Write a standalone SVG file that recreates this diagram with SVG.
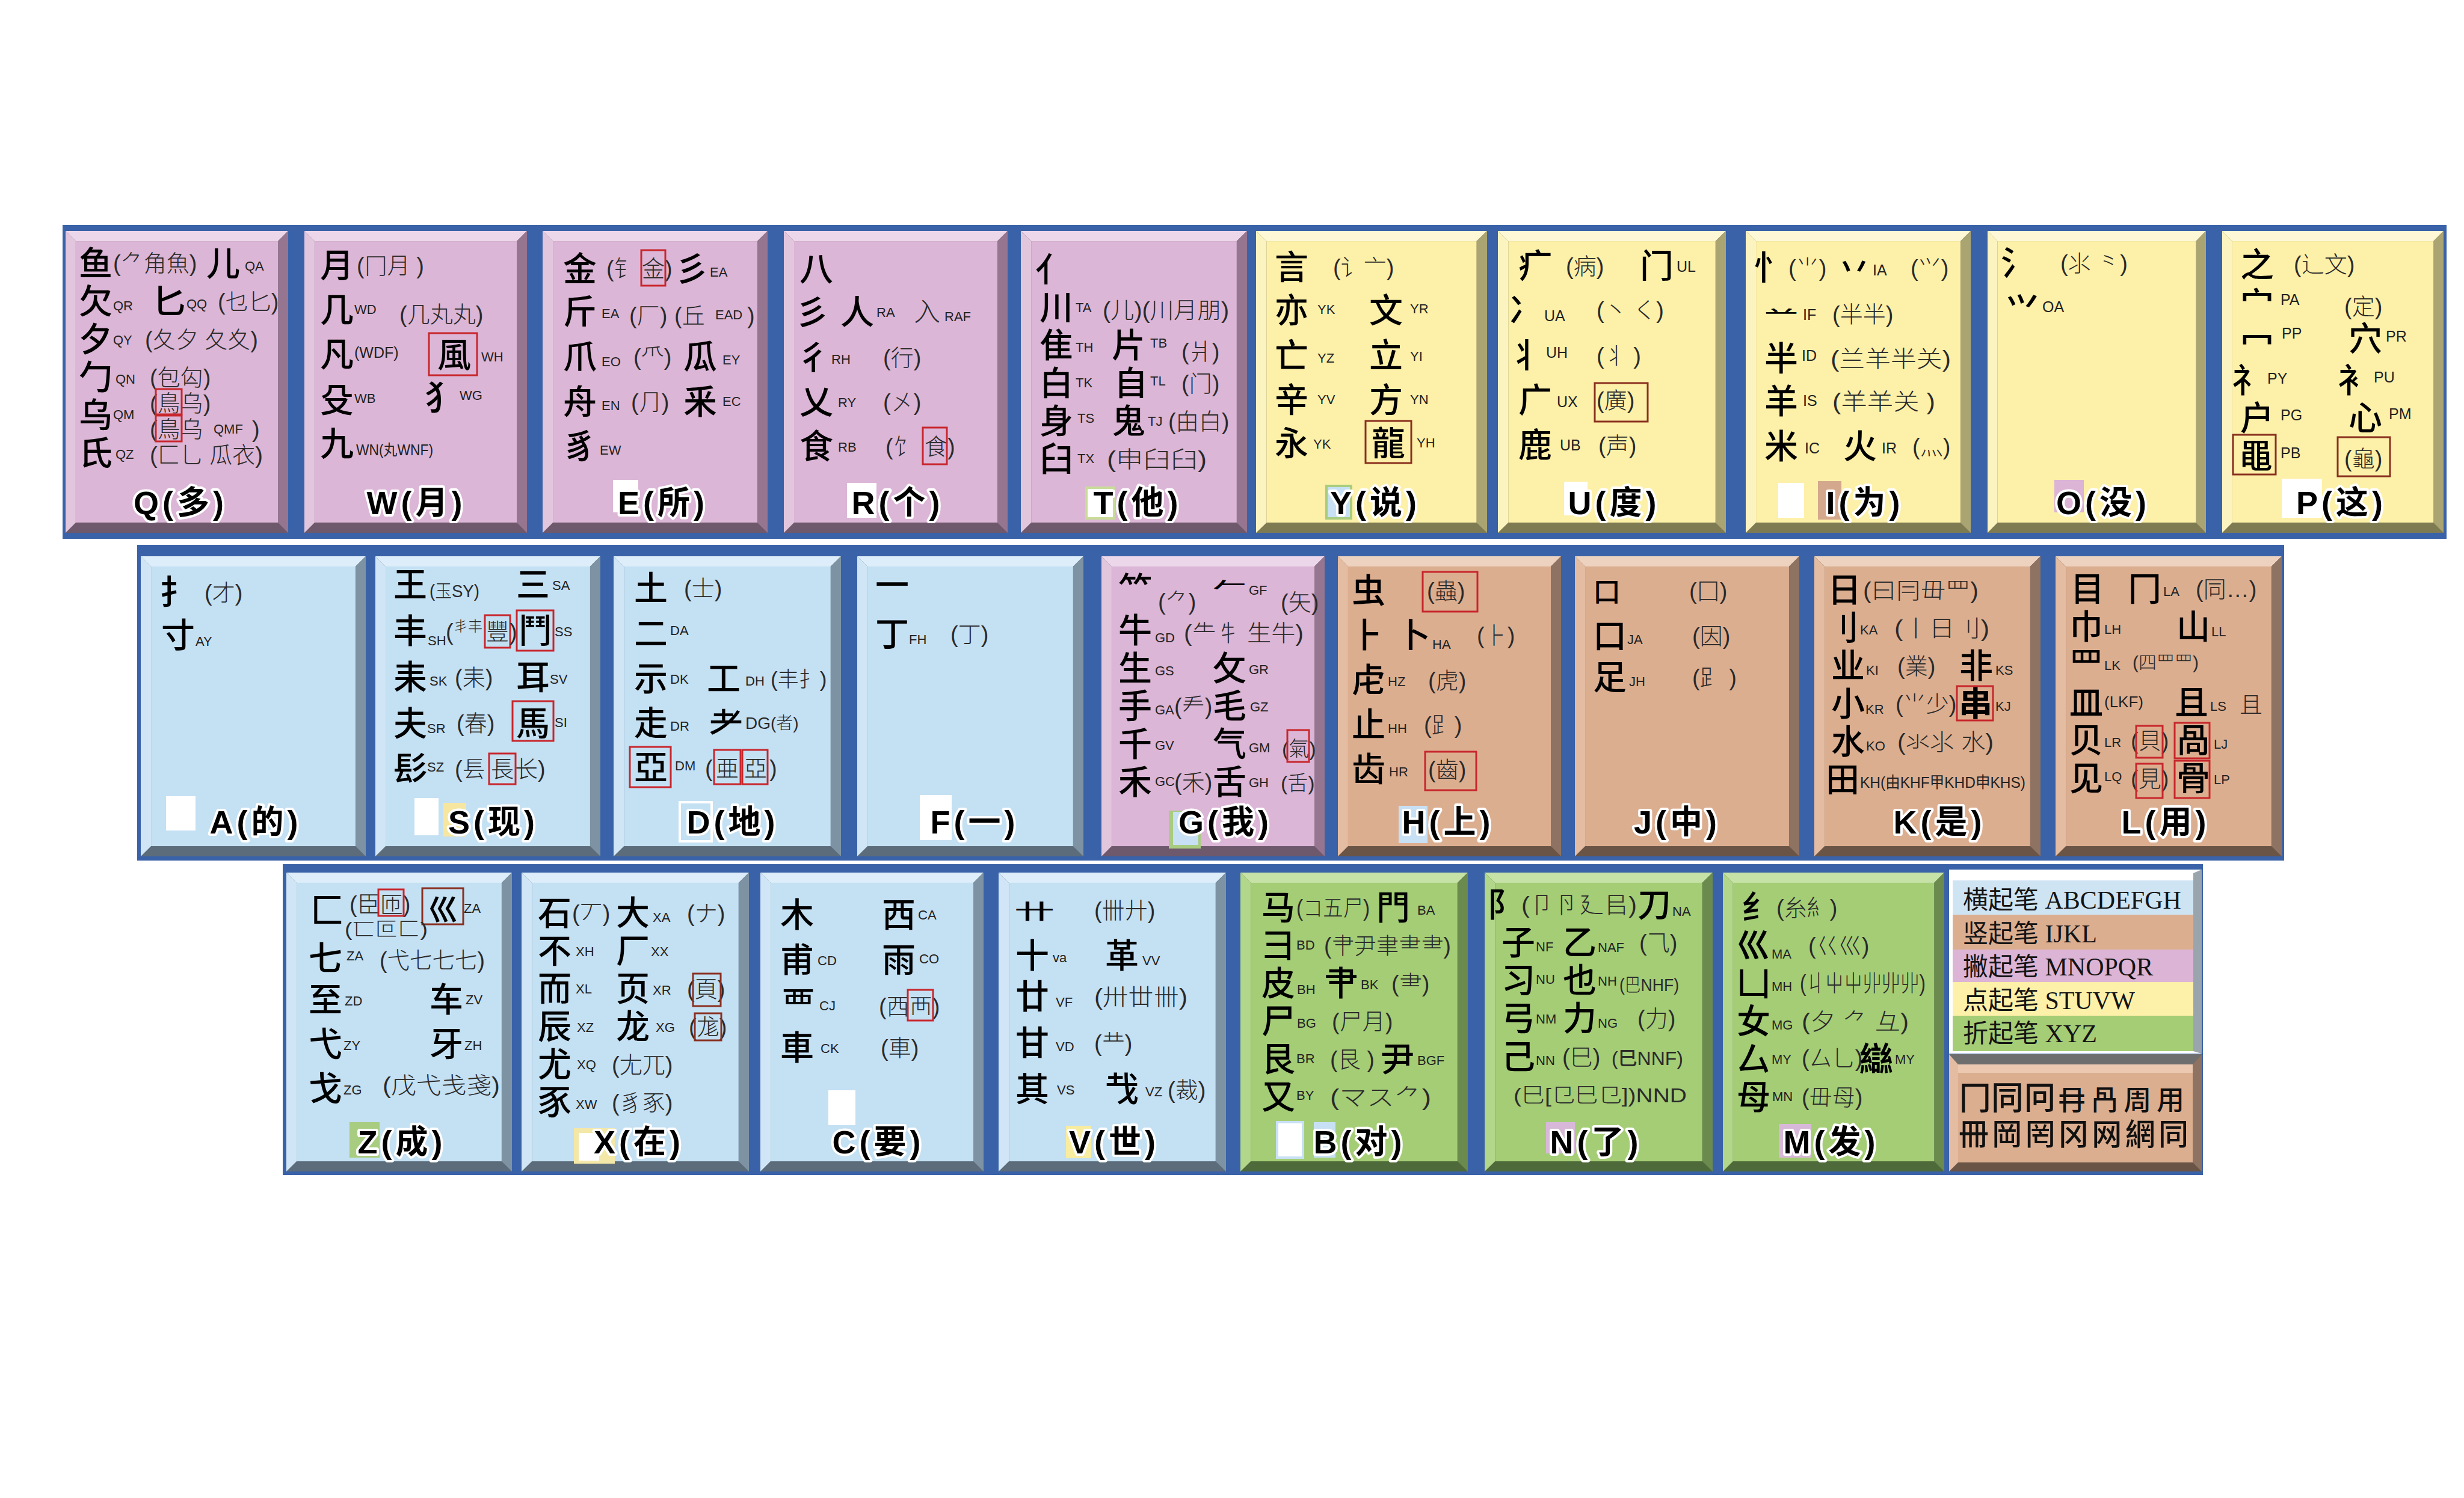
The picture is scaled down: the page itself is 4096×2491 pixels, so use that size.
<svg xmlns="http://www.w3.org/2000/svg" width="4096" height="2491" viewBox="0 0 4096 2491">
<style>
.kb{fill:var(--b)}.kt{fill:var(--t)}.kl{fill:var(--l)}.kr{fill:var(--r)}.kf{fill:var(--f)}
.pk{--f:#dcb6d6;--t:#ecd6ea;--l:#e2c6de;--r:#957590;--b:#6e586c}
.yl{--f:#fdf0a8;--t:#fef8d6;--l:#fbf3c0;--r:#aaa472;--b:#7e7a52}
.bl{--f:#c4e0f3;--t:#ddeefa;--l:#d0e6f6;--r:#7d93a4;--b:#5c6c7a}
.tn{--f:#dcae90;--t:#edd2c0;--l:#e3bca2;--r:#8e7262;--b:#6a5446}
.gr{--f:#a4cd76;--t:#c6e2a6;--l:#b2d68a;--r:#6a8a4e;--b:#4f6a3a}
.band{fill:#3a62a8}
.m{font-family:"Liberation Sans","Noto Sans CJK SC","Noto Sans CJK JP","Noto Sans CJK TC",sans-serif;font-size:56px;font-weight:500;fill:#000}
.p{font-family:"Liberation Sans","Noto Sans CJK SC","Noto Sans CJK JP","Noto Sans CJK TC",sans-serif;font-size:38px;font-weight:300;fill:#2a2a2a}
.c{font-family:"Liberation Sans Narrow","Liberation Sans","Noto Sans CJK SC",sans-serif;font-size:22px;fill:#222}
.c4{font-size:25px}
.lb{font-family:"Liberation Sans","Noto Sans CJK SC",sans-serif;font-size:54px;font-weight:700;fill:#000;stroke:#fff;stroke-width:8px;stroke-linejoin:round;paint-order:stroke;text-anchor:middle;letter-spacing:6px}
.rb{fill:none;stroke:#c8262c;stroke-width:3}
.db{fill:none;stroke:#8a3020;stroke-width:3}
.wb{fill:#fff}
.lg{font-family:"Liberation Serif","Noto Sans CJK SC",serif;font-size:42px;fill:#141414}
.lc{font-family:"Liberation Serif","Noto Sans CJK SC",sans-serif;font-weight:500;fill:#111}
</style>
<defs>
<symbol id="k" viewBox="0 0 372 500" preserveAspectRatio="none">
<rect class="kb" width="372" height="500"/>
<polygon class="kt" points="0,0 372,0 355,17 17,17"/>
<polygon class="kl" points="0,0 17,17 17,483 0,500"/>
<polygon class="kr" points="372,0 372,500 355,483 355,17"/>
<rect class="kf" x="17" y="17" width="338" height="466"/>
</symbol>
</defs>
<rect width="4096" height="2491" fill="#fff"/>
<g id="bands">
<rect class="band" x="104" y="374" width="3963" height="522"/>
<rect class="band" x="228" y="906" width="3569" height="525"/>
<rect class="band" x="470" y="1437" width="3192" height="517"/>
</g>

<g id="key-Q">
<use href="#k" x="109" y="384" width="370" height="502" class="pk"/>
<text class="m" x="131" y="458">鱼</text><text class="p" x="188" y="451">(⺈角魚)</text><text class="m" x="343" y="458">儿</text><text class="c" x="407" y="450">QA</text>
<text class="m" x="131" y="521">欠</text><text class="c" x="188" y="516">QR</text><text class="m" x="253" y="521">匕</text><text class="c" x="310" y="513">QQ</text><text class="p" x="362" y="515">(乜匕)</text>
<text class="m" x="131" y="584">夕</text><text class="c" x="188" y="573">QY</text><text class="p" x="241" y="578">(夂夕 夂夊)</text>
<text class="m" x="131" y="647">勹</text><text class="c" x="192" y="638">QN</text><text class="p" x="249" y="641">(包匃)</text>
<text class="m" x="131" y="710">乌</text><text class="c" x="188" y="697">QM</text><text class="p" x="249" y="684">(鳥乌)</text><rect class="rb" x="259" y="647" width="43" height="42"/>
<text class="p" x="249" y="727">(鳥乌</text><rect class="rb" x="259" y="691" width="43" height="43"/><text class="c" x="355" y="721">QMF</text><text class="p" x="419" y="727">)</text>
<text class="m" x="131" y="773">氏</text><text class="c" x="192" y="763">QZ</text><text class="p" x="249" y="770">(匚乚 瓜衣)</text>
<text class="lb" x="300" y="855">Q(多)</text>
</g>

<g id="key-W">
<use href="#k" x="506" y="384" width="370" height="502" class="pk"/>
<text class="m" x="532" y="461">月</text><text class="p" x="593" y="455">(冂月 )</text>
<text class="m" x="532" y="535">几</text><text class="c" x="589" y="522">WD</text><text class="p" x="664" y="536">(几丸丸)</text>
<text class="m" x="532" y="609">凡</text><text class="c" x="589" y="595" style="font-size:25px">(WDF)</text><rect class="rb" x="713" y="554" width="80" height="70"/><text class="m" x="727" y="610">風</text><text class="c" x="800" y="601">WH</text>
<text class="m" x="532" y="685">殳</text><text class="c" x="589" y="670">WB</text><text class="m" x="706" y="681">犭</text><text class="c" x="764" y="665">WG</text>
<text class="m" x="532" y="758">九</text><text class="c" x="592" y="757" style="font-size:25px" textLength="128" lengthAdjust="spacingAndGlyphs">WN(丸WNF)</text>
<text class="lb" x="692" y="855">W(月)</text>
</g>

<g id="key-E">
<use href="#k" x="902" y="384" width="374" height="502" class="pk"/>
<text class="m" x="936" y="467">金</text><text class="p" x="1008" y="460">(钅</text><text class="p" x="1067" y="460">金)</text><rect class="rb" x="1066" y="416" width="40" height="59"/><text class="m" x="1122" y="467">彡</text><text class="c" x="1180" y="460">EA</text>
<text class="m" x="936" y="538">斤</text><text class="c" x="1000" y="529">EA</text><text class="p" x="1046" y="538">(厂)</text><text class="p" x="1121" y="538">(丘</text><text class="c" x="1189" y="531">EAD</text><text class="p" x="1242" y="538">)</text>
<text class="m" x="936" y="613">爪</text><text class="c" x="1000" y="609">EO</text><text class="p" x="1053" y="607">(⺥)</text><text class="m" x="1136" y="613">瓜</text><text class="c" x="1201" y="606">EY</text>
<text class="m" x="936" y="688">舟</text><text class="c" x="1000" y="682">EN</text><text class="p" x="1049" y="682">(⺆)</text><text class="m" x="1136" y="688">釆</text><text class="c" x="1201" y="675">EC</text>
<text class="m" x="936" y="762">豸</text><text class="c" x="997" y="756">EW</text>
<rect class="wb" x="1019" y="798" width="42" height="54"/>
<text class="lb" x="1102" y="855">E(所)</text>
</g>

<g id="key-R">
<use href="#k" x="1303" y="384" width="372" height="502" class="pk"/>
<text class="m" x="1329" y="467">八</text>
<text class="m" x="1322" y="539">彡</text><text class="m" x="1397" y="539">人</text><text class="c" x="1457" y="527">RA</text><text class="p" x="1519" y="534" style="font-size:44px">入</text><text class="c" x="1570" y="534">RAF</text>
<text class="m" x="1324" y="614">彳</text><text class="c" x="1382" y="605">RH</text><text class="p" x="1468" y="608">(行)</text>
<text class="m" x="1329" y="688">乂</text><text class="c" x="1393" y="677">RY</text><text class="p" x="1468" y="682">(㐅)</text>
<text class="m" x="1329" y="762">食</text><text class="c" x="1393" y="751">RB</text><text class="p" x="1472" y="756">(饣</text><text class="p" x="1537" y="756">食)</text><rect class="rb" x="1534" y="711" width="40" height="61"/>
<rect class="wb" x="1408" y="803" width="49" height="58"/>
<text class="lb" x="1492" y="855">R(个)</text>
</g>

<g id="key-T">
<use href="#k" x="1697" y="384" width="376" height="502" class="pk"/>
<text class="m" x="1721" y="468">亻</text>
<text class="m" x="1728" y="531">川</text><text class="c" x="1788" y="519">TA</text><text class="p" x="1833" y="529" textLength="210" lengthAdjust="spacingAndGlyphs">(儿)(川月朋)</text>
<text class="m" x="1728" y="594">隹</text><text class="c" x="1788" y="585">TH</text><text class="m" x="1848" y="594">片</text><text class="c" x="1912" y="578">TB</text><text class="p" x="1964" y="598">(爿)</text>
<text class="m" x="1728" y="657">白</text><text class="c" x="1788" y="644">TK</text><text class="m" x="1852" y="657">自</text><text class="c" x="1912" y="641">TL</text><text class="p" x="1964" y="651">(门)</text>
<text class="m" x="1728" y="720">身</text><text class="c" x="1791" y="703">TS</text><text class="m" x="1848" y="720">鬼</text><text class="c" x="1908" y="708">TJ</text><text class="p" x="1942" y="714">(甶白)</text>
<text class="m" x="1728" y="783">臼</text><text class="c" x="1791" y="770">TX</text><text class="p" x="1840" y="777" textLength="166" lengthAdjust="spacingAndGlyphs">(申臼臼)</text>
<rect x="1806" y="811" width="46" height="51" fill="#fff" stroke="#c8dc98" stroke-width="4"/>
<text class="lb" x="1891" y="855">T(他)</text>
</g>

<g id="key-Y">
<use href="#k" x="2088" y="384" width="384" height="502" class="yl"/>
<text class="m" x="2119" y="464">言</text><text class="p" x="2216" y="458">(讠亠)</text>
<text class="m" x="2119" y="536">亦</text><text class="c" x="2190" y="522">YK</text><text class="m" x="2276" y="536">文</text><text class="c" x="2344" y="521">YR</text>
<text class="m" x="2119" y="611">亡</text><text class="c" x="2190" y="603">YZ</text><text class="m" x="2276" y="611">立</text><text class="c" x="2344" y="600">YI</text>
<text class="m" x="2119" y="685">辛</text><text class="c" x="2190" y="672">YV</text><text class="m" x="2276" y="685">方</text><text class="c" x="2344" y="672">YN</text>
<text class="m" x="2119" y="757">永</text><text class="c" x="2183" y="746">YK</text><text class="m" x="2280" y="757">龍</text><rect class="db" x="2270" y="700" width="76" height="70"/><text class="c" x="2355" y="744">YH</text>
<rect x="2205" y="808" width="41" height="54" fill="#c8e0f4" stroke="#a8cc80" stroke-width="4"/>
<text class="lb" x="2286" y="855">Y(说)</text>
</g>

<g id="key-U">
<use href="#k" x="2490" y="384" width="379" height="502" class="yl"/>
<text class="m" x="2524" y="462">疒</text><text class="p" x="2603" y="456">(病)</text><text class="m" x="2726" y="462">门</text><text class="c c4" x="2787" y="452">UL</text>
<text class="m" x="2508" y="535">冫</text><text class="c c4" x="2567" y="534">UA</text><text class="p" x="2654" y="529">(丶 く)</text>
<text class="m" x="2508" y="611">丬</text><text class="c c4" x="2570" y="595">UH</text><text class="p" x="2654" y="605">(丬 )</text>
<text class="m" x="2524" y="685">广</text><text class="c c4" x="2588" y="677">UX</text><text class="p" x="2654" y="679">(廣)</text><rect class="db" x="2651" y="637" width="88" height="64"/>
<text class="m" x="2524" y="760">鹿</text><text class="c c4" x="2593" y="749">UB</text><text class="p" x="2657" y="754">(声)</text>
<rect class="wb" x="2600" y="801" width="39" height="56"/>
<text class="lb" x="2683" y="855">U(度)</text>
</g>

<g id="key-I">
<use href="#k" x="2902" y="384" width="374" height="502" class="yl"/>
<text class="m" x="2915" y="465">忄</text><text class="p" x="2973" y="459">(⺌)</text><text class="m" x="3054" y="465">丷</text><text class="c c4" x="3113" y="458">IA</text><text class="p" x="3176" y="459">(⺍)</text>
<text class="m" transform="translate(2933,531) scale(1,0.55)">䒑</text><text class="c c4" x="2997" y="532">IF</text><text class="p" x="3046" y="536">(半半)</text>
<text class="m" x="2933" y="616">半</text><text class="c c4" x="2995" y="600">ID</text><text class="p" x="3043" y="610" textLength="200" lengthAdjust="spacingAndGlyphs">(兰羊半关)</text>
<text class="m" x="2933" y="687">羊</text><text class="c c4" x="2997" y="675">IS</text><text class="p" x="3046" y="681" textLength="171" lengthAdjust="spacingAndGlyphs">(羊羊关 )</text>
<text class="m" x="2933" y="762">米</text><text class="c c4" x="3000" y="754">IC</text><text class="m" x="3064" y="762">火</text><text class="c c4" x="3128" y="754">IR</text><text class="p" x="3179" y="756">(灬)</text>
<rect class="wb" x="2956" y="803" width="43" height="58"/><rect x="3022" y="800" width="39" height="64" fill="#d4a88c"/>
<text class="lb" x="3100" y="855">I(为)</text>
</g>

<g id="key-O">
<use href="#k" x="3304" y="384" width="363" height="502" class="yl"/>
<text class="m" x="3326" y="457">氵</text><text class="p" x="3425" y="451">(⺢ ⺀)</text>
<text class="m" x="3334" y="535">⺍</text><text class="c c4" x="3395" y="519">OA</text>
<rect x="3415" y="798" width="49" height="54" fill="#dcb4d6"/>
<text class="lb" x="3496" y="855">O(没)</text>
</g>

<g id="key-P">
<use href="#k" x="3694" y="384" width="368" height="502" class="yl"/>
<text class="m" x="3724" y="460">之</text><text class="p" x="3813" y="453">(辶文)</text>
<text class="m" x="3724" y="526">宀</text><text class="c c4" x="3791" y="507">PA</text><text class="p" x="3897" y="523">(定)</text>
<text class="m" x="3724" y="589">冖</text><text class="c c4" x="3793" y="563">PP</text><text class="m" x="3904" y="583">穴</text><text class="c c4" x="3966" y="568">PR</text>
<text class="m" x="3710" y="652">礻</text><text class="c c4" x="3769" y="638">PY</text><text class="m" x="3886" y="652">衤</text><text class="c c4" x="3946" y="636">PU</text>
<text class="m" x="3724" y="715">户</text><text class="c c4" x="3791" y="699">PG</text><text class="m" x="3904" y="715">心</text><text class="c c4" x="3971" y="697">PM</text>
<text class="m" x="3722" y="778">黽</text><rect class="db" x="3712" y="723" width="71" height="66"/><text class="c c4" x="3791" y="762">PB</text><text class="p" x="3897" y="776">(龜)</text><rect class="db" x="3886" y="727" width="87" height="65"/>
<rect class="wb" x="3793" y="796" width="67" height="65"/>
<text class="lb" x="3892" y="855">P(这)</text>
</g>

<g id="key-A">
<use href="#k" x="234" y="925" width="374" height="499" class="bl"/>
<text class="m" x="265" y="1005">扌</text><text class="p" x="340" y="999">(才)</text>
<text class="m" x="268" y="1076">寸</text><text class="c" x="325" y="1074">AY</text>
<rect class="wb" x="276" y="1324" width="49" height="57"/>
<text class="lb" x="425" y="1386">A(的)</text>
</g>

<g id="key-S">
<use href="#k" x="624" y="925" width="374" height="499" class="bl"/>
<text class="m" x="654" y="992">王</text><text class="p" x="714" y="993" style="font-size:30px" textLength="83" lengthAdjust="spacingAndGlyphs">(玉SY)</text><text class="m" x="858" y="992">三</text><text class="c" x="918" y="981">SA</text>
<text class="m" x="654" y="1069">丰</text><text class="c" x="711" y="1073">SH</text><text class="p" x="741" y="1064">(</text><text class="p" x="754" y="1050" style="font-size:24px">丯丰</text><text class="p" x="808" y="1064">豐</text><rect class="rb" x="806" y="1023" width="42" height="54"/><text class="p" x="847" y="1064">)</text>
<text class="m" x="862" y="1069">鬥</text><rect class="rb" x="859" y="1015" width="61" height="67"/><text class="c" x="922" y="1058">SS</text>
<text class="m" x="654" y="1146">耒</text><text class="c" x="714" y="1140">SK</text><text class="p" x="756" y="1140">(耒)</text><text class="m" x="858" y="1146">耳</text><text class="c" x="914" y="1137">SV</text>
<text class="m" x="654" y="1223">夫</text><text class="c" x="710" y="1219">SR</text><text class="p" x="759" y="1216">(春)</text><text class="m" x="858" y="1223">馬</text><rect class="rb" x="852" y="1166" width="68" height="66"/><text class="c" x="922" y="1209">SI</text>
<text class="m" x="654" y="1298">髟</text><text class="c" x="710" y="1283">SZ</text><text class="p" x="756" y="1292">(镸</text><text class="p" x="816" y="1292">長</text><rect class="rb" x="813" y="1253" width="44" height="51"/><text class="p" x="856" y="1292">长)</text>
<rect class="wb" x="689" y="1327" width="40" height="62"/><rect x="737" y="1335" width="38" height="56" fill="#f6e6a0"/>
<text class="lb" x="820" y="1386">S(现)</text>
</g>

<g id="key-D">
<use href="#k" x="1020" y="925" width="378" height="499" class="bl"/>
<text class="m" x="1054" y="998">土</text><text class="p" x="1137" y="992">(士)</text>
<text class="m" x="1054" y="1073">二</text><text class="c" x="1114" y="1056">DA</text>
<text class="m" x="1054" y="1148">示</text><text class="c" x="1114" y="1137">DK</text><text class="m" x="1175" y="1148">工</text><text class="c" x="1239" y="1140">DH</text><text class="p" x="1281" y="1142" style="font-size:35px">(丰扌)</text>
<text class="m" x="1054" y="1222">走</text><text class="c" x="1114" y="1215">DR</text><text class="m" x="1179" y="1222">耂</text><text class="p" x="1239" y="1212" style="font-size:28px">DG(者)</text>
<text class="m" x="1054" y="1296">亞</text><rect class="rb" x="1047" y="1242" width="68" height="67"/><text class="c" x="1122" y="1281">DM</text>
<text class="p" x="1172" y="1291">(</text><text class="p" x="1190" y="1291">亜</text><rect class="rb" x="1187" y="1247" width="44" height="57"/><text class="p" x="1237" y="1291">亞</text><rect class="rb" x="1234" y="1247" width="42" height="57"/><text class="p" x="1279" y="1291">)</text>
<rect x="1130" y="1334" width="53" height="65" fill="none" stroke="#fff" stroke-width="4"/>
<text class="lb" x="1218" y="1386">D(地)</text>
</g>

<g id="key-F">
<use href="#k" x="1425" y="925" width="376" height="499" class="bl"/>
<text class="m" x="1455" y="993">一</text>
<text class="m" x="1455" y="1074">丁</text><text class="c" x="1511" y="1071">FH</text><text class="p" x="1580" y="1068">(丁)</text>
<rect class="wb" x="1529" y="1322" width="53" height="75"/>
<text class="lb" x="1620" y="1386">F(一)</text>
</g>

<g id="key-G">
<use href="#k" x="1831" y="925" width="371" height="499" class="pk"/>
<text class="m" x="1859" y="1000">⺮</text><text class="p" x="1925" y="1014">(⺈)</text><text class="m" transform="translate(2016,985) scale(1,0.55)">𠂉</text><text class="c" x="2076" y="989">GF</text><text class="p" x="2129" y="1015">(矢)</text>
<text class="m" x="1859" y="1068">牛</text><text class="c" x="1920" y="1068">GD</text><text class="p" x="1968" y="1066" textLength="199" lengthAdjust="spacingAndGlyphs">(⺧牜 生牛)</text>
<text class="m" x="1859" y="1131">生</text><text class="c" x="1920" y="1123">GS</text><text class="m" x="2016" y="1131">攵</text><text class="c" x="2076" y="1121">GR</text>
<text class="m" x="1859" y="1194">手</text><text class="c" x="1920" y="1188">GA</text><text class="p" x="1952" y="1188">(龵)</text><text class="m" x="2016" y="1194">毛</text><text class="c" x="2078" y="1183">GZ</text>
<text class="m" x="1859" y="1257">千</text><text class="c" x="1920" y="1247">GV</text><text class="m" x="2016" y="1257">气</text><text class="c" x="2076" y="1251">GM</text><text class="p" x="2131" y="1257" style="font-size:34px">(氣)</text><rect class="rb" x="2140" y="1214" width="36" height="53"/>
<text class="m" x="1859" y="1320">禾</text><text class="c" x="1920" y="1307">GC</text><text class="p" x="1952" y="1314">(禾)</text><text class="m" x="2016" y="1320">舌</text><text class="c" x="2076" y="1309">GH</text><text class="p" x="2129" y="1314" style="font-size:34px">(舌)</text>
<rect x="1943" y="1348" width="53" height="63" fill="#a8cc80"/><rect x="1950" y="1350" width="42" height="55" fill="#c8e0f4"/>
<text class="lb" x="2037" y="1386">G(我)</text>
</g>

<g id="key-H">
<use href="#k" x="2224" y="925" width="371" height="499" class="tn"/>
<text class="m" x="2247" y="1002">虫</text><text class="p" x="2372" y="996">(蟲)</text><rect class="rb" x="2365" y="951" width="91" height="66"/>
<text class="m" x="2245" y="1076">⺊</text><text class="m" x="2322" y="1076">卜</text><text class="c" x="2381" y="1079">HA</text><text class="p" x="2455" y="1070">(⺊)</text>
<text class="m" x="2247" y="1151">虍</text><text class="c" x="2307" y="1141">HZ</text><text class="p" x="2374" y="1145">(虎)</text>
<text class="m" x="2247" y="1225">止</text><text class="c" x="2307" y="1219">HH</text><text class="p" x="2367" y="1219">(⻊)</text>
<text class="m" x="2247" y="1299">齿</text><text class="c" x="2309" y="1291">HR</text><text class="p" x="2374" y="1293">(齒)</text><rect class="rb" x="2369" y="1250" width="85" height="64"/>
<rect x="2325" y="1340" width="48" height="62" fill="#c8e0f4"/>
<text class="lb" x="2407" y="1386">H(上)</text>
</g>

<g id="key-J">
<use href="#k" x="2618" y="925" width="373" height="499" class="tn"/>
<text class="m" x="2648" y="1000" style="font-size:46px">口</text><text class="p" x="2808" y="996">(囗)</text>
<text class="m" x="2648" y="1077">口</text><text class="c" x="2705" y="1071">JA</text><text class="p" x="2813" y="1071">(因)</text>
<text class="m" x="2648" y="1146">足</text><text class="c" x="2708" y="1141">JH</text><text class="p" x="2813" y="1140">(⻊ )</text>
<text class="lb" x="2788" y="1386">J(中)</text>
</g>

<g id="key-K">
<use href="#k" x="3016" y="925" width="376" height="499" class="tn"/>
<text class="m" x="3038" y="1001">日</text><text class="p" x="3097" y="995" textLength="192" lengthAdjust="spacingAndGlyphs">(曰冃毌罒)</text>
<text class="m" x="3034" y="1064">刂</text><text class="c" x="3092" y="1055">KA</text><text class="p" x="3149" y="1058" textLength="158" lengthAdjust="spacingAndGlyphs">(丨日刂)</text>
<text class="m" x="3044" y="1127">业</text><text class="c" x="3102" y="1122">KI</text><text class="p" x="3154" y="1121">(業)</text><text class="m" x="3257" y="1127">非</text><text class="c" x="3317" y="1122">KS</text>
<text class="m" x="3044" y="1190">小</text><text class="c" x="3101" y="1187">KR</text><text class="p" x="3151" y="1184">(⺌少)</text><text class="m" x="3256" y="1190" style="font-weight:700">串</text><rect class="rb" x="3253" y="1141" width="60" height="57"/><text class="c" x="3317" y="1182">KJ</text>
<text class="m" x="3044" y="1253">水</text><text class="c" x="3102" y="1248">KO</text><text class="p" x="3154" y="1247" textLength="160" lengthAdjust="spacingAndGlyphs">(氺⺢ 水)</text>
<text class="m" x="3035" y="1316">田</text><text class="c" x="3092" y="1310" style="font-size:26px" textLength="275" lengthAdjust="spacingAndGlyphs">KH(由KHF甲KHD申KHS)</text>
<text class="lb" x="3224" y="1386">K(是)</text>
</g>

<g id="key-L">
<use href="#k" x="3417" y="925" width="376" height="499" class="tn"/>
<text class="m" x="3442" y="999">目</text><text class="m" x="3537" y="999">冂</text><text class="c" x="3596" y="991">LA</text><text class="p" x="3650" y="993">(同…)</text>
<text class="m" x="3440" y="1062">巾</text><text class="c" x="3498" y="1054">LH</text><text class="m" x="3618" y="1062">山</text><text class="c" x="3676" y="1058">LL</text>
<text class="m" x="3440" y="1125">罒</text><text class="c" x="3498" y="1114">LK</text><text class="p" x="3545" y="1112" style="font-size:30px" textLength="110" lengthAdjust="spacingAndGlyphs">(四罒罒)</text>
<text class="m" x="3440" y="1188">皿</text><text class="c" x="3498" y="1176" style="font-size:26px">(LKF)</text><text class="m" x="3615" y="1188">且</text><text class="c" x="3674" y="1182">LS</text><text class="p" x="3723" y="1185">且</text>
<text class="m" x="3440" y="1251">贝</text><text class="c" x="3498" y="1242">LR</text><text class="p" x="3542" y="1245">(貝)</text><rect class="rb" x="3551" y="1207" width="44" height="53"/><text class="m" x="3618" y="1251">咼</text><rect class="rb" x="3615" y="1202" width="58" height="59"/><text class="c" x="3680" y="1245">LJ</text>
<text class="m" x="3440" y="1314">见</text><text class="c" x="3498" y="1299">LQ</text><text class="p" x="3542" y="1308">(見)</text><rect class="rb" x="3551" y="1270" width="44" height="57"/><text class="m" x="3618" y="1314">骨</text><rect class="rb" x="3615" y="1265" width="58" height="62"/><text class="c" x="3680" y="1304">LP</text>
<text class="lb" x="3600" y="1386">L(用)</text>
</g>

<g id="key-Z">
<use href="#k" x="476" y="1451" width="375" height="497" class="bl"/>
<text class="m" x="516" y="1534">匚</text><text class="p" x="581" y="1517">(臣匝)</text><rect class="rb" x="629" y="1479" width="42" height="44"/><text class="m" x="712" y="1531" style="font-size:50px">巛</text><rect class="db" x="702" y="1477" width="68" height="60"/><text class="c" x="771" y="1518">ZA</text>
<text class="p" x="573" y="1556" style="font-size:32px" textLength="138" lengthAdjust="spacingAndGlyphs">(匸叵匚)</text>
<text class="m" x="513" y="1613">七</text><text class="c" x="576" y="1597">ZA</text><text class="p" x="631" y="1610" textLength="175" lengthAdjust="spacingAndGlyphs">(弋七七七)</text>
<text class="m" x="513" y="1682">至</text><text class="c" x="573" y="1672">ZD</text><text class="m" x="714" y="1682">车</text><text class="c" x="774" y="1670">ZV</text>
<text class="m" x="513" y="1756">弋</text><text class="c" x="571" y="1746">ZY</text><text class="m" x="714" y="1756">牙</text><text class="c" x="772" y="1746">ZH</text>
<text class="m" x="513" y="1830">戈</text><text class="c" x="571" y="1820">ZG</text><text class="p" x="636" y="1818" textLength="195" lengthAdjust="spacingAndGlyphs">(戊弋戋戔)</text>
<rect x="581" y="1866" width="50" height="59" fill="#a8cc80"/>
<text class="lb" x="668" y="1918">Z(成)</text>
</g>

<g id="key-X">
<use href="#k" x="867" y="1451" width="378" height="497" class="bl"/>
<text class="m" x="894" y="1538">石</text><text class="p" x="951" y="1532">(丆)</text><text class="m" x="1024" y="1538">大</text><text class="c" x="1085" y="1533">XA</text><text class="p" x="1142" y="1532">(ナ)</text>
<text class="m" x="894" y="1601">不</text><text class="c" x="957" y="1590">XH</text><text class="m" x="1024" y="1601">厂</text><text class="c" x="1082" y="1590">XX</text>
<text class="m" x="894" y="1664">而</text><text class="c" x="957" y="1652">XL</text><text class="m" x="1024" y="1664">页</text><text class="c" x="1085" y="1654">XR</text><text class="p" x="1142" y="1658">(頁)</text><rect class="db" x="1152" y="1619" width="46" height="54"/>
<text class="m" x="894" y="1727">辰</text><text class="c" x="959" y="1716">XZ</text><text class="m" x="1024" y="1727">龙</text><text class="c" x="1090" y="1716">XG</text><text class="p" x="1145" y="1721">(尨)</text><rect class="db" x="1155" y="1685" width="44" height="45"/>
<text class="m" x="894" y="1790">尤</text><text class="c" x="959" y="1778">XQ</text><text class="p" x="1017" y="1784">(尢兀)</text>
<text class="m" x="894" y="1853">豕</text><text class="c" x="957" y="1844">XW</text><text class="p" x="1017" y="1847">(豸豖)</text>
<rect x="954" y="1876" width="68" height="59" fill="#f4e8a8"/><rect class="wb" x="962" y="1884" width="34" height="46"/>
<text class="lb" x="1062" y="1918">X(在)</text>
</g>

<g id="key-C">
<use href="#k" x="1264" y="1451" width="371" height="497" class="bl"/>
<text class="m" x="1297" y="1541">木</text><text class="m" x="1466" y="1541">西</text><text class="c" x="1526" y="1529">CA</text>
<text class="m" x="1297" y="1616">甫</text><text class="c" x="1359" y="1605">CD</text><text class="m" x="1466" y="1616">雨</text><text class="c" x="1528" y="1602">CO</text>
<text class="m" x="1299" y="1690">覀</text><text class="c" x="1362" y="1680">CJ</text><text class="p" x="1461" y="1687">(西襾)</text><rect class="rb" x="1509" y="1646" width="42" height="51"/>
<text class="m" x="1297" y="1762">車</text><text class="c" x="1364" y="1751">CK</text><text class="p" x="1464" y="1756">(車)</text>
<rect class="wb" x="1377" y="1813" width="45" height="58"/>
<text class="lb" x="1460" y="1918">C(要)</text>
</g>

<g id="key-V">
<use href="#k" x="1660" y="1451" width="378" height="497" class="bl"/>
<text class="m" transform="translate(1686,1528) scale(1.2,0.6)">卄</text><text class="p" x="1819" y="1527">(卌廾)</text>
<text class="m" x="1688" y="1609">十</text><text class="c" x="1750" y="1600">va</text><text class="m" x="1837" y="1609">革</text><text class="c" x="1899" y="1605">VV</text>
<text class="m" x="1688" y="1677">廿</text><text class="c" x="1755" y="1674">VF</text><text class="p" x="1819" y="1671" textLength="155" lengthAdjust="spacingAndGlyphs">(卅丗卌)</text>
<text class="m" x="1688" y="1754">甘</text><text class="c" x="1755" y="1748">VD</text><text class="p" x="1819" y="1748">(龷)</text>
<text class="m" x="1688" y="1831">其</text><text class="c" x="1757" y="1820">VS</text><text class="m" x="1837" y="1831">𢦏</text><text class="c" x="1904" y="1823">VZ</text><text class="p" x="1941" y="1826">(裁)</text>
<rect x="1772" y="1872" width="42" height="54" fill="#f8eca0"/>
<text class="lb" x="1852" y="1918">V(世)</text>
</g>

<g id="key-B">
<use href="#k" x="2062" y="1451" width="378" height="497" class="gr"/>
<text class="m" x="2097" y="1529">马</text><text class="p" x="2155" y="1523" textLength="122" lengthAdjust="spacingAndGlyphs">(コ五尸)</text><text class="m" x="2288" y="1529">門</text><text class="c" x="2356" y="1521">BA</text>
<text class="m" x="2097" y="1592">彐</text><text class="c" x="2155" y="1579">BD</text><text class="p" x="2201" y="1586" textLength="211" lengthAdjust="spacingAndGlyphs">(肀尹聿⺻⺻)</text>
<text class="m" x="2097" y="1655">皮</text><text class="c" x="2156" y="1653">BH</text><text class="m" x="2201" y="1655">肀</text><text class="c" x="2262" y="1645">BK</text><text class="p" x="2313" y="1649">(⺻)</text>
<text class="m" x="2097" y="1718">尸</text><text class="c" x="2156" y="1709">BG</text><text class="p" x="2214" y="1712">(尸月)</text>
<text class="m" x="2097" y="1781">艮</text><text class="c" x="2155" y="1768">BR</text><text class="p" x="2211" y="1775">(艮 )</text><text class="m" x="2295" y="1781">尹</text><text class="c" x="2356" y="1771">BGF</text>
<text class="m" x="2097" y="1844">又</text><text class="c" x="2155" y="1829">BY</text><text class="p" x="2211" y="1838" textLength="168" lengthAdjust="spacingAndGlyphs">(マス⺈)</text>
<rect x="2123" y="1866" width="43" height="59" fill="#fff" stroke="#c8e0f4" stroke-width="4"/><rect x="2184" y="1866" width="36" height="59" fill="#c8e0f4"/>
<text class="lb" x="2260" y="1918">B(对)</text>
</g>

<g id="key-N">
<use href="#k" x="2468" y="1451" width="379" height="497" class="gr"/>
<text class="m" x="2472" y="1524">阝</text><text class="p" x="2529" y="1518" textLength="192" lengthAdjust="spacingAndGlyphs">(卩卪廴㠯)</text><text class="m" x="2722" y="1524">刀</text><text class="c" x="2780" y="1523">NA</text>
<text class="m" x="2496" y="1587">子</text><text class="c" x="2553" y="1582">NF</text><text class="m" x="2598" y="1587">乙</text><text class="c" x="2656" y="1583">NAF</text><text class="p" x="2725" y="1581">(⺄)</text>
<text class="m" x="2496" y="1650">习</text><text class="c" x="2553" y="1636">NU</text><text class="m" x="2598" y="1650">也</text><text class="c" x="2656" y="1639">NH</text><text class="p" x="2692" y="1648" style="font-size:30px" textLength="99" lengthAdjust="spacingAndGlyphs">(巴NHF)</text>
<text class="m" x="2496" y="1713">弓</text><text class="c" x="2553" y="1702">NM</text><text class="m" x="2598" y="1713">力</text><text class="c" x="2656" y="1709">NG</text><text class="p" x="2722" y="1707">(力)</text>
<text class="m" x="2496" y="1777">己</text><text class="c" x="2553" y="1771">NN</text><text class="p" x="2597" y="1771">(⺒)</text><text class="p" x="2679" y="1771" style="font-size:32px;font-weight:500" textLength="119" lengthAdjust="spacingAndGlyphs">(巳NNF)</text>
<text class="p" x="2516" y="1833" style="font-size:34px" textLength="288" lengthAdjust="spacingAndGlyphs">(巳[⺋⺒⺋])NND</text>
<rect x="2570" y="1866" width="48" height="52" fill="#d8b8d8"/>
<text class="lb" x="2653" y="1918">N(了)</text>
</g>

<g id="key-M">
<use href="#k" x="2864" y="1451" width="368" height="497" class="gr"/>
<text class="m" x="2895" y="1529">纟</text><text class="p" x="2953" y="1523">(糸糹)</text>
<text class="m" x="2887" y="1592">巛</text><text class="c" x="2945" y="1594">MA</text><text class="p" x="3006" y="1586">(巜巛)</text>
<text class="m" x="2887" y="1655">凵</text><text class="c" x="2945" y="1648">MH</text><text class="p" x="2992" y="1648" textLength="209" lengthAdjust="spacingAndGlyphs">(丩屮屮丱丱丱)</text>
<text class="m" x="2887" y="1718">女</text><text class="c" x="2945" y="1712">MG</text><text class="p" x="2995" y="1712" textLength="178" lengthAdjust="spacingAndGlyphs">(夕 ⺈ 彑)</text>
<text class="m" x="2887" y="1781">厶</text><text class="c" x="2945" y="1769">MY</text><text class="p" x="2995" y="1773">(厶乚)</text><text class="m" x="3091" y="1781" style="font-weight:700">䜌</text><text class="c" x="3150" y="1769">MY</text>
<text class="m" x="2887" y="1844">母</text><text class="c" x="2946" y="1831">MN</text><text class="p" x="2995" y="1838">(毌⺟)</text>
<rect x="2957" y="1869" width="54" height="56" fill="#d8b8d8"/>
<text class="lb" x="3044" y="1918">M(发)</text>
</g>

<g id="legend">
<rect x="3240" y="1446" width="420" height="306" fill="#fff"/>
<rect x="3246" y="1464" width="400" height="57" fill="#cfe4f2"/>
<rect x="3246" y="1521" width="400" height="58" fill="#dcae90"/>
<rect x="3246" y="1579" width="400" height="54" fill="#dcb4d6"/>
<rect x="3246" y="1633" width="400" height="56" fill="#fdf0a8"/>
<rect x="3246" y="1689" width="400" height="59" fill="#a4cd76"/>
<polygon points="3646,1452 3660,1446 3660,1752 3646,1748" fill="#9aa4ac"/>
<text class="lg" x="3263" y="1511">横起笔 ABCDEFGH</text>
<text class="lg" x="3263" y="1567">竖起笔 IJKL</text>
<text class="lg" x="3263" y="1622">撇起笔 MNOPQR</text>
<text class="lg" x="3263" y="1678">点起笔 STUVW</text>
<text class="lg" x="3263" y="1733">折起笔 XYZ</text>
<rect x="3240" y="1753" width="420" height="195" fill="#6a5446"/>
<polygon points="3240,1753 3660,1753 3645,1770 3255,1770" fill="#6e6e6e"/>
<polygon points="3240,1753 3255,1770 3255,1933 3240,1948" fill="#e3bca2"/>
<polygon points="3660,1753 3660,1948 3645,1933 3645,1770" fill="#8e7262"/>
<rect x="3255" y="1770" width="390" height="163" fill="#dcae90"/>
<rect x="3255" y="1770" width="390" height="14" fill="#ecc8b0"/>
<text class="lc" x="3256" y="1845" style="font-size:54px">冂同冋</text>
<text class="lc" x="3421" y="1845" style="font-size:46px" textLength="210" lengthAdjust="spacing">冄冎周用</text>
<text class="lc" x="3256" y="1904" style="font-size:50px" textLength="382" lengthAdjust="spacing">冊岡罔冈网網同</text>
</g>
</svg>
